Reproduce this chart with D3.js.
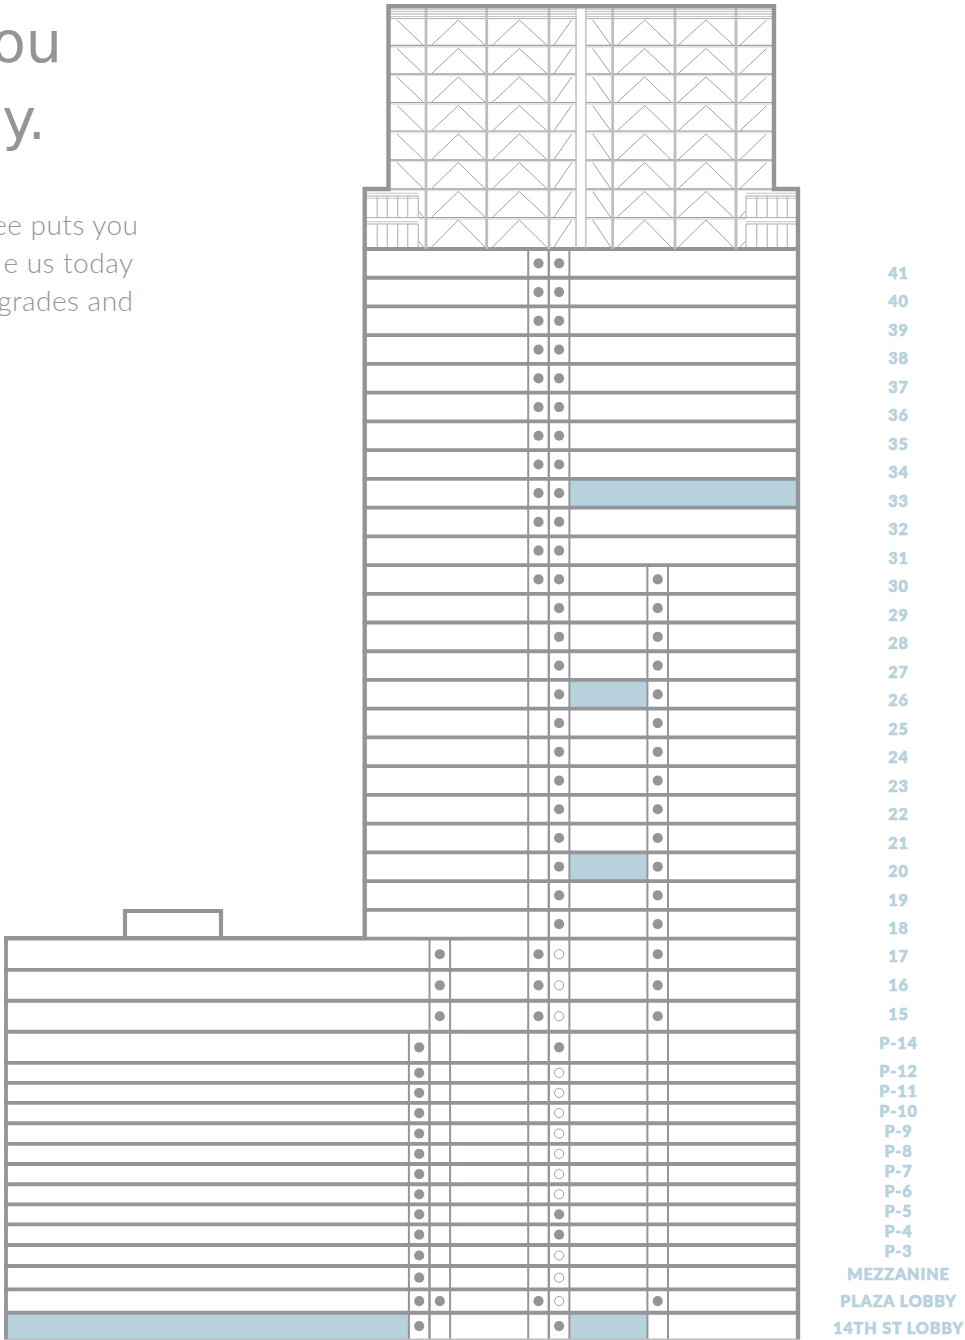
<!DOCTYPE html>
<html>
<head>
<meta charset="utf-8">
<script src="https://cdn.jsdelivr.net/npm/d3@7"></script>
<style>
  html, body { margin: 0; padding: 0; background: #fff; overflow: hidden; }
  svg { display: block; }
</style>
</head>
<body>
<div id="chart"></div>
<script>
// floors from the top of the tower down to the street
var upperFloors = ['41','40','39','38','37','36','35','34','33','32','31','30',
  '29','28','27','26','25','24','23','22','21','20','19','18'];
var lowerFloors = ['17','16','15','P-14','P-12','P-11','P-10','P-9','P-8','P-7','P-6','P-5','P-4','P-3',
  'MEZZANINE','PLAZA LOBBY','14TH ST LOBBY'];
var floors = upperFloors.concat(lowerFloors);

// storey heights, same order as floors
var storeyHeights = [28.7,28.7,28.7,28.7,28.7,28.7,28.7,28.7,28.7,28.7,28.7,28.7,
  28.7,28.7,28.7,28.7,28.7,28.7,28.7,28.7,28.7,28.7,28.7,28.7,
  31.3,30.8,31,31,20,20,20.4,20.5,20.2,20.2,20.1,20,20.6,21,23.3,23.4,26.6];

// distance of each floor label from the one above it
var labelGaps = [0,28.5,28.5,28.5,28.5,28.5,28.5,28.5,28.5,28.5,28.5,28.5,
  28.5,28.5,28.5,28.5,28.5,28.5,28.5,28.5,28.5,28.5,28.5,28.5,
  27.5,29.5,29,29,28,20,20,20,20,20,20,20,20,20,23,27,27];

// elevator banks: floors served, left to right
var bankA = ['P-14','P-12','P-11','P-10','P-9','P-8','P-7','P-6','P-5','P-4','P-3','MEZZANINE','PLAZA LOBBY','14TH ST LOBBY'];
var bankB = ['17','16','15','P-14','P-12','P-11','P-10','P-9','P-8','P-7','P-6','P-5','P-4','P-3','MEZZANINE','PLAZA LOBBY','14TH ST LOBBY'];
var bankC = floors;
var bankD = floors;
var bankE = floors.slice(floors.indexOf('30'));

// floors where a car actually stops
var stopsA = bankA;
var stopsB = ['17','16','15','PLAZA LOBBY'];
var stopsC = ['41','40','39','38','37','36','35','34','33','32','31','30','17','16','15','PLAZA LOBBY'];
var stopsD = floors;
var stopsE = floors.slice(floors.indexOf('30'), floors.indexOf('15') + 1).concat(['PLAZA LOBBY']);

// bank D stops that are open circles
var openStopsD = ['17','16','15','P-12','P-11','P-10','P-9','P-8','P-7','P-6','P-3','MEZZANINE','PLAZA LOBBY'];

// highlighted space by wing
var availableWest = ['14TH ST LOBBY'];
var availableCore = ['26','20','14TH ST LOBBY'];
var availableEast = ['33'];

var titleLines = ['ou', 'y.'];
var bodyLines = ['ee puts you', 'e us today', 'grades and'];

var grey = '#939598',
  midGrey = '#9fa1a4',
  lightGrey = '#bcbec0',
  blue = '#b7d2dc';

var width = 965,
  height = 1340;

var svg = d3.select('#chart').append('svg')
  .attr('width', width)
  .attr('height', height);

// y scale: height stacked up from the street
var total = d3.sum(storeyHeights);
var y = d3.scaleLinear().domain([0, total]).range([249, 1339.4]);
var tops = {};
var bottoms = {};
var run = 0;
floors.forEach(function (f, i) {
  tops[f] = y(run);
  run += storeyHeights[i];
  bottoms[f] = y(run);
});
var mid = function (f) { return (tops[f] + bottoms[f]) / 2; };

var wallLeft = 6,
  towerLeft = 364.7,
  wallRight = 798,
  bankWidth = 20.6;

// ---- highlighted space
function fillSpace(list, x0, x1) {
  svg.append('g').selectAll('rect')
    .data(list)
    .enter()
    .append('rect')
    .attr('x', x0)
    .attr('width', x1 - x0)
    .attr('y', function (d) { return tops[d]; })
    .attr('height', function (d) { return bottoms[d] - tops[d]; })
    .attr('fill', blue);
}
fillSpace(availableWest, wallLeft, 408.3);
fillSpace(availableCore, 569, 647.3);
fillSpace(availableEast, 569, wallRight);

// ---- elevator banks
var banks = [
  { x: 408.9, serves: bankA, stops: stopsA },
  { x: 429.5, serves: bankB, stops: stopsB },
  { x: 528.2, serves: bankC, stops: stopsC },
  { x: 548.8, serves: bankD, stops: stopsD, open: openStopsD },
  { x: 647.4, serves: bankE, stops: stopsE }
];

var shafts = svg.append('g');
banks.forEach(function (b) {
  [b.x, b.x + bankWidth].forEach(function (x) {
    shafts.append('line')
      .attr('x1', x).attr('x2', x)
      .attr('y1', tops[b.serves[0]])
      .attr('y2', bottoms[b.serves[b.serves.length - 1]])
      .attr('stroke', grey)
      .attr('stroke-width', 2);
  });
});

// ---- floor plates
var plates = svg.append('g');
plates.selectAll('line')
  .data(floors)
  .enter()
  .append('line')
  .attr('x1', function (d) { return lowerFloors.indexOf(d) > -1 ? wallLeft - 2 : towerLeft - 2; })
  .attr('x2', wallRight + 2)
  .attr('y1', function (d) { return tops[d]; })
  .attr('y2', function (d) { return tops[d]; })
  .attr('stroke', grey)
  .attr('stroke-width', 3.8);

plates.append('line')
  .attr('x1', wallLeft - 2).attr('x2', wallRight + 2)
  .attr('y1', y(total)).attr('y2', y(total))
  .attr('stroke', lightGrey)
  .attr('stroke-width', 2);

// ---- stops
banks.forEach(function (b) {
  var open = b.open || [];
  svg.append('g').selectAll('circle')
    .data(b.stops)
    .enter()
    .append('circle')
    .attr('cx', b.x + bankWidth / 2)
    .attr('cy', function (d) { return mid(d); })
    .attr('r', function (d) { return open.indexOf(d) > -1 ? 4.6 : 5.1; })
    .attr('fill', function (d) { return open.indexOf(d) > -1 ? '#fff' : grey; })
    .attr('stroke', function (d) { return open.indexOf(d) > -1 ? grey : 'none'; })
    .attr('stroke-width', 0.9);
});

// ---- crown
var crown = svg.append('g').attr('fill', 'none');
var crownTop = 6.3,
  crownBottom = 249,
  crownLeft = 388.5,
  crownRight = 774,
  stepY = 189;

var rowLines = [45.5, 74, 102.6, 131.2, 160, 189, 217.6];
rowLines.forEach(function (ry) {
  [[crownLeft, 576], [586, crownRight]].forEach(function (s) {
    crown.append('line')
      .attr('x1', s[0]).attr('x2', s[1])
      .attr('y1', ry).attr('y2', ry)
      .attr('stroke', midGrey)
      .attr('stroke-width', 1.3);
    crown.append('line')
      .attr('x1', s[0]).attr('x2', s[1])
      .attr('y1', ry + 1.7).attr('y2', ry + 1.7)
      .attr('stroke', '#dcddde')
      .attr('stroke-width', 1);
  });
});

// louvres under the roof
[[9.5, lightGrey], [11.5, lightGrey], [14, midGrey], [16.5, lightGrey], [18.6, midGrey]].forEach(function (l) {
  [[crownLeft, 576], [586, crownRight]].forEach(function (s) {
    crown.append('line')
      .attr('x1', s[0]).attr('x2', s[1])
      .attr('y1', l[0]).attr('y2', l[0])
      .attr('stroke', l[1])
      .attr('stroke-width', 0.9);
  });
});

// crown columns
[426, 486.7, 549, 612.7, 675, 736].forEach(function (cx) {
  crown.append('line')
    .attr('x1', cx).attr('x2', cx)
    .attr('y1', crownTop).attr('y2', crownBottom)
    .attr('stroke', lightGrey)
    .attr('stroke-width', 2.8);
});
[576, 585.8].forEach(function (cx) {
  crown.append('line')
    .attr('x1', cx).attr('x2', cx)
    .attr('y1', crownTop).attr('y2', crownBottom)
    .attr('stroke', lightGrey)
    .attr('stroke-width', 1.4);
});

// braces, one set per crown row
var rowTops = [20, 48.5, 77, 105.5, 134, 162.5, 191.5, 220];
var braceLine = d3.line();
rowTops.forEach(function (t, i) {
  var b = (i === rowTops.length - 1) ? crownBottom - 2 : rowLines[i] - 0.5;
  var bays = [
    [458.3, 431.7, 485],
    [519.3, 492.7, 546.7],
    [644.7, 617.3, 671],
    [706, 678.3, 733.3]
  ];
  bays.forEach(function (p) {
    crown.append('path')
      .attr('d', braceLine([[p[1], b], [p[0], t], [p[2], b]]))
      .attr('stroke', midGrey)
      .attr('stroke-width', 1);
  });
  // half braces at the bay ends
  var halves = [
    [[554, b], [571.7, t]],
    [[592.7, t], [610.7, b]]
  ];
  if (i < 6) {
    halves.push([[397, t], [423.3, b]]);
    halves.push([[740, b], [766.7, t]]);
  } else {
    halves.push([[418.3, b - 6.5], [423.3, b]]);
    halves.push([[740, b], [746, b - 6.5]]);
  }
  halves.forEach(function (h) {
    crown.append('path')
      .attr('d', braceLine(h))
      .attr('stroke', midGrey)
      .attr('stroke-width', 1);
  });
});

// mechanical boxes either side of the crown
function mechBox(x0, x1, posts) {
  var g = svg.append('g');
  g.append('rect')
    .attr('x', x0).attr('y', 191)
    .attr('width', x1 - x0).attr('height', 56)
    .attr('fill', '#fff');
  [[193.3, lightGrey], [196, midGrey], [198.3, lightGrey], [217.6, midGrey], [221.7, lightGrey], [224, midGrey]].forEach(function (l) {
    g.append('line')
      .attr('x1', x0).attr('x2', x1)
      .attr('y1', l[0]).attr('y2', l[0])
      .attr('stroke', l[1])
      .attr('stroke-width', 0.9);
  });
  posts.forEach(function (px) {
    [[196, 217.6], [224, 247]].forEach(function (s) {
      g.append('line')
        .attr('x1', px).attr('x2', px)
        .attr('y1', s[0]).attr('y2', s[1])
        .attr('stroke', lightGrey)
        .attr('stroke-width', 1.3);
    });
  });
}
mechBox(366, 418.3, [377.3, 387.3, 397.7, 407.7, 418.3]);
mechBox(746, 797, [746, 756.7, 767.3, 777.3, 787.3]);

// ---- outer walls
var walls = svg.append('g').attr('fill', 'none').attr('stroke', grey);
var outline = d3.line();
walls.append('path')
  .attr('d', outline([[towerLeft, 938], [towerLeft, stepY], [crownLeft, stepY], [crownLeft, crownTop],
    [crownRight, crownTop], [crownRight, stepY], [wallRight, stepY], [wallRight, 1339]]))
  .attr('stroke-width', 4.4);
walls.append('path')
  .attr('d', outline([[wallLeft, 1339], [wallLeft, 938], [towerLeft, 938]]))
  .attr('stroke-width', 3.8);
walls.append('path')
  .attr('d', outline([[125, 938], [125, 911], [221, 911], [221, 938]]))
  .attr('stroke-width', 4.2);

// ---- floor labels
var labelPos = [];
var lp = 273;
floors.forEach(function (f, i) {
  lp += labelGaps[i];
  labelPos.push(lp);
});
var labelScale = d3.scaleOrdinal().domain(floors).range(labelPos);

var labelAxis = d3.axisRight(labelScale).tickSize(0).tickPadding(0);
svg.append('g')
  .attr('transform', 'translate(898.5,0)')
  .call(labelAxis)
  .call(function (g) { g.select('.domain').remove(); })
  .selectAll('text')
  .attr('x', 0)
  .attr('text-anchor', 'middle')
  .attr('fill', blue)
  .attr('stroke', blue)
  .attr('stroke-width', 0.7)
  .style('font-family', 'Lato, sans-serif')
  .style('font-weight', 900)
  .style('font-size', '16px')
  .style('letter-spacing', '0.95px');

// ---- copy running off the left edge
svg.append('g').selectAll('text')
  .data(titleLines)
  .enter()
  .append('text')
  .attr('x', function (d, i) { return i === 0 ? 62 : 46; })
  .attr('y', function (d, i) { return 62 + i * 77; })
  .attr('text-anchor', 'end')
  .attr('fill', grey)
  .style('font-family', '"DejaVu Sans", sans-serif')
  .style('font-size', '57px')
  .text(function (d) { return d; });

svg.append('g').selectAll('text')
  .data(bodyLines)
  .enter()
  .append('text')
  .attr('x', function (d, i) { return i === 0 ? 138.5 : 133.5; })
  .attr('y', function (d, i) { return 235 + i * 38; })
  .attr('text-anchor', 'end')
  .attr('fill', grey)
  .style('font-family', 'Lato, sans-serif')
  .style('font-weight', 300)
  .style('font-size', '28px')
  .style('letter-spacing', '0.5px')
  .text(function (d) { return d; });
</script>
</body>
</html>
